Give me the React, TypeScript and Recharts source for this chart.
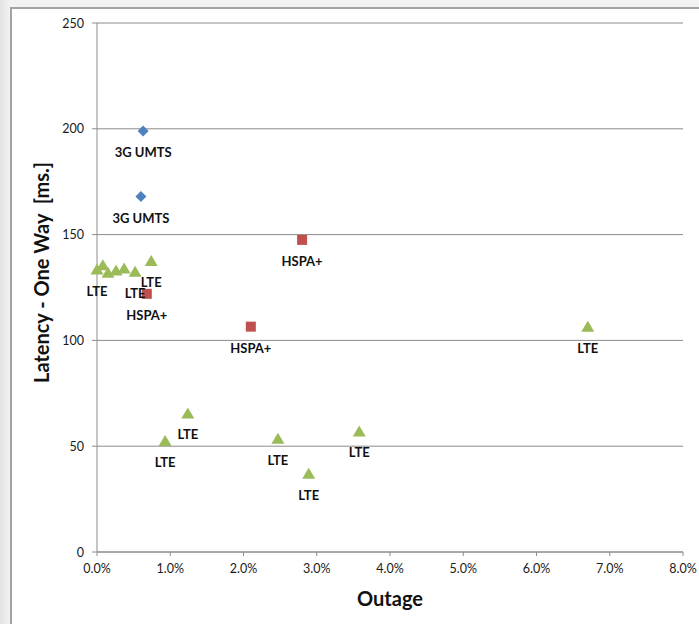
import React from "react";
import {
  ScatterChart,
  Scatter,
  XAxis,
  YAxis,
  CartesianGrid,
} from "recharts";

// Outage (%) vs one-way latency (ms) per network technology
const umtsOutage = [0.63, 0.6];
const umtsLatency = [199, 168];
const umtsLabels = ["3G UMTS", "3G UMTS"];

const hspaOutage = [2.8, 2.1, 0.68];
const hspaLatency = [147.5, 106.5, 122];
const hspaLabels = ["HSPA+", "HSPA+", "HSPA+"];

const lteOutage = [0.0, 0.08, 0.15, 0.26, 0.37, 0.52, 0.74, 0.93, 1.24, 2.47, 2.89, 3.58, 6.7];
const lteLatency = [133.5, 135.5, 132, 133, 134, 132.5, 137.5, 52.5, 65.5, 53.5, 37, 57, 106.5];
const lteLabels = ["LTE", "", "", "", "", "LTE", "LTE", "LTE", "LTE", "LTE", "LTE", "LTE", "LTE"];

const xTicks = [0, 1, 2, 3, 4, 5, 6, 7, 8];
const yTicks = [0, 50, 100, 150, 200, 250];

const toRows = (xs: number[], ys: number[], labels: string[]) =>
  xs.map((x, i) => ({ outage: x, latency: ys[i], label: labels[i] }));

const font = "Lato, 'Open Sans', sans-serif";
const axisStroke = "#8c8c8c";

const XTick = (p: any) => (
  <text x={p.x} y={p.y + 12} textAnchor="middle" fontSize={12.5} fill="#1a1a1a" fontFamily={font}>
    {`${Number(p.payload.value).toFixed(1)}%`}
  </text>
);

const YTick = (p: any) => (
  <text x={p.x} y={p.y + 4.5} textAnchor="end" fontSize={12.5} fill="#1a1a1a" fontFamily={font}>
    {p.payload.value}
  </text>
);

type MarkProps = { cx?: number; cy?: number; payload?: { label: string } };

function PointLabel({ cx, cy, text }: { cx: number; cy: number; text: string }) {
  if (!text) return null;
  return (
    <text
      x={cx}
      y={cy + 26}
      textAnchor="middle"
      fontSize={13}
      fontWeight="bold"
      fill="#111"
      fontFamily={font}
    >
      {text}
    </text>
  );
}

const Diamond = ({ cx = 0, cy = 0, payload }: MarkProps) => (
  <g>
    <polygon
      points={`${cx},${cy - 5.5} ${cx + 5.5},${cy} ${cx},${cy + 5.5} ${cx - 5.5},${cy}`}
      fill="#4f81bd"
    />
    <PointLabel cx={cx} cy={cy} text={payload?.label ?? ""} />
  </g>
);

const Square = ({ cx = 0, cy = 0, payload }: MarkProps) => (
  <g>
    <rect x={cx - 5} y={cy - 5} width={10} height={10} fill="#c0504d" />
    <PointLabel cx={cx} cy={cy} text={payload?.label ?? ""} />
  </g>
);

const Triangle = ({ cx = 0, cy = 0, payload }: MarkProps) => (
  <g>
    <polygon
      points={`${cx},${cy - 6} ${cx + 6.5},${cy + 5} ${cx - 6.5},${cy + 5}`}
      fill="#9bbb59"
    />
    <PointLabel cx={cx} cy={cy} text={payload?.label ?? ""} />
  </g>
);

export default function App() {
  return (
    <div
      style={{
        position: "fixed",
        left: 0,
        top: 0,
        width: 699,
        height: 624,
        background: "linear-gradient(to right, #e2e2e2, #f2f2f2 10px)",
      }}
    >
      <div
        style={{
          position: "absolute",
          left: 10,
          top: 7,
          right: 0,
          bottom: 0,
          background: "#fff",
          borderLeft: "2px solid #a3a3a3",
          borderTop: "2px solid #a3a3a3",
        }}
      />
      <div style={{ position: "absolute", left: 0, top: 0 }}>
        <ScatterChart
          width={699}
          height={624}
          margin={{ top: 23, right: 16, left: 57, bottom: 42 }}
          style={{ overflow: "visible" }}
        >
          <CartesianGrid horizontal vertical={false} stroke="#8c8c8c" />
          <XAxis
            type="number"
            dataKey="outage"
            domain={[0, 8]}
            ticks={xTicks}
            height={30}
            tick={XTick}
            stroke={axisStroke}
            tickSize={4}
            tickMargin={5}
            label={{
              value: "Outage",
              position: "bottom",
              offset: 10,
              style: { fontSize: 20, fontWeight: "bold", fill: "#111", fontFamily: font },
            }}
          />
          <YAxis
            type="number"
            dataKey="latency"
            domain={[0, 250]}
            ticks={yTicks}
            width={40}
            tick={YTick}
            stroke={axisStroke}
            tickSize={5}
            tickMargin={8}
            label={{
              content: (p: any) => {
                const vb = p.viewBox;
                const x = vb.x - 16;
                const y = vb.y + vb.height / 2 - 15;
                return (
                  <text
                    x={x}
                    y={y}
                    transform={`rotate(-90, ${x}, ${y})`}
                    textAnchor="middle"
                    dominantBaseline="central"
                    fontSize={20}
                    fontWeight="bold"
                    fill="#111"
                    fontFamily={font}
                  >
                    {"Latency - One Way\u00a0 [ms.]"}
                  </text>
                );
              },
            }}
          />
          <Scatter
            name="3G UMTS"
            data={toRows(umtsOutage, umtsLatency, umtsLabels)}
            shape={Diamond}
            isAnimationActive={false}
          />
          <Scatter
            name="HSPA+"
            data={toRows(hspaOutage, hspaLatency, hspaLabels)}
            shape={Square}
            isAnimationActive={false}
          />
          <Scatter
            name="LTE"
            data={toRows(lteOutage, lteLatency, lteLabels)}
            shape={Triangle}
            isAnimationActive={false}
          />
        </ScatterChart>
      </div>
    </div>
  );
}
